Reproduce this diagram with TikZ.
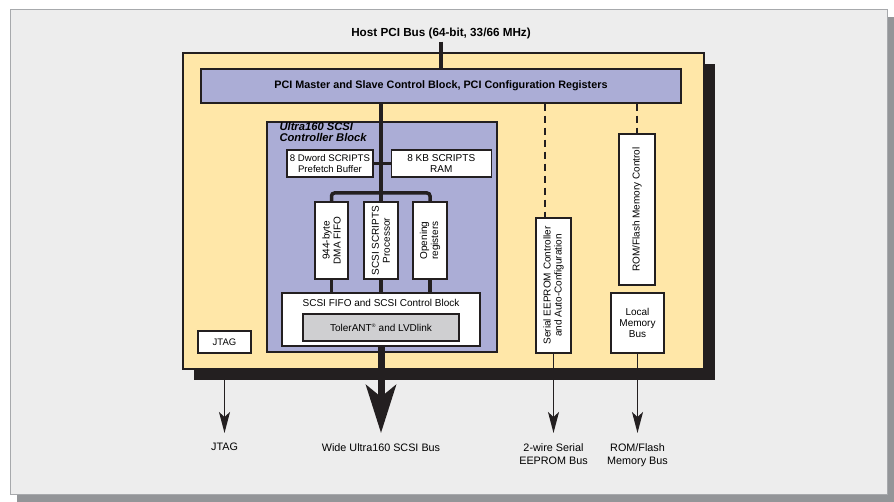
\documentclass[tikz,border=0pt]{standalone}
\usepackage{fontspec}
\setmainfont{Liberation Sans}
\usetikzlibrary{positioning,arrows.meta}
\definecolor{panel}{HTML}{EDEDED}
\definecolor{rim}{HTML}{A7A9AC}
\definecolor{drop}{HTML}{939598}
\definecolor{ink}{HTML}{231F20}
\definecolor{chipbg}{HTML}{FFE7A8}
\definecolor{lav}{HTML}{ABADD6}
\definecolor{tolbg}{HTML}{CFCFD1}
\tikzset{%
  blk/.style={draw=ink,line width=1.3pt,fill=white,inner sep=1pt,align=center,
    font=\fontsize{10}{11}\selectfont},
  vblk/.style={blk,rotate=90},
  bus/.style={draw=ink,line width=3.5pt},
  wire/.style={draw=ink,line width=1.4pt},
  ctl/.style={draw=ink,line width=1.4pt,dash pattern=on 7pt off 5pt},
  sig/.style={wire,-{Stealth[length=21pt,width=11pt,inset=5pt]}},
  wide/.style={draw=ink,line width=7pt,-{Stealth[length=48pt,width=30pt,inset=12pt]}},
  lbl/.style={font=\fontsize{10.8}{13}\selectfont,align=center,inner sep=0pt,anchor=north}
}

\begin{document}
\begin{tikzpicture}[x=1pt,y=-1pt]
  \useasboundingbox (0,0) rectangle (894,502);
  % backdrop
  \fill[drop] (17,17) rectangle (894,502);
  \filldraw[fill=panel,draw=rim,line width=1pt] (10,10) rectangle (887,494);

  % chip outline with its shadow
  \fill[ink] (194,64) rectangle (715,380);
  \node[draw=ink,line width=1.3pt,fill=chipbg,inner sep=0pt,
    minimum width=521pt,minimum height=316pt] (chip) at (443.5,211) {};

  \node[lbl,anchor=center,font=\bfseries\fontsize{11.7}{13}\selectfont,inner sep=3pt]
    (host) at (441,33) {Host PCI Bus (64-bit, 33/66 MHz)};
  \node[blk,fill=lav,minimum width=480pt,minimum height=34pt,
    font=\bfseries\fontsize{10.8}{12}\selectfont] (pci) at (441,86)
    {PCI Master and Slave Control Block, PCI Configuration Registers};

  % SCSI core
  \node[blk,fill=lav,minimum width=230pt,minimum height=230pt] (scsi) at (382,237) {};
  \node[below right=1pt and 13pt of scsi.north west,inner sep=0pt,align=left,
    font=\bfseries\itshape\fontsize{11.2}{10.5}\selectfont] (title)
    {Ultra160 SCSI\\Controller Block};

  \node[blk,minimum width=86pt,minimum height=27pt,font=\fontsize{9.6}{11}\selectfont]
    (dword) at (330,163.5) {8 Dword SCRIPTS\\Prefetch Buffer};
  \node[blk,minimum width=100pt,minimum height=27pt,right=17pt of dword] (kbram)
    {8 KB SCRIPTS\\RAM};

  % rotated blocks: east is the top edge, west the bottom one
  \node[vblk,minimum width=77pt,minimum height=33pt] (dma) at (331.5,240.5)
    {944-byte\\DMA FIFO};
  \node[vblk,minimum width=77pt,minimum height=34pt] (proc) at (381,240.5)
    {SCSI SCRIPTS\\Processor};
  \node[vblk,minimum width=77pt,minimum height=34pt] (opn) at (430,240.5)
    {Opening\\registers};

  \node[blk,minimum width=198pt,minimum height=53pt,
    label={[blk,draw=none,fill=none,anchor=north,yshift=-5pt]north:SCSI FIFO and SCSI Control Block}]
    (fifo) at (381,319.5) {};
  \node[blk,fill=tolbg,minimum width=156pt,minimum height=27pt] (tol) at (381,327.5)
    {TolerANT\textsuperscript{\tiny\textregistered} and LVDlink};

  \node[blk,minimum width=53pt,minimum height=22pt,font=\fontsize{9.5}{11}\selectfont]
    (jtag) at (224.5,342) {JTAG};

  \node[vblk,minimum width=135pt,minimum height=35pt] (eep) at (553.5,285.5)
    {Serial EEPROM Controller\\and Auto-Configuration};
  \node[vblk,minimum width=151pt,minimum height=36pt] (rom) at (637,209.5)
    {ROM/Flash Memory Control};
  \node[blk,minimum width=53pt,minimum height=60pt] (lmb) at (637.5,323)
    {Local\\Memory\\Bus};

  % outside labels
  \node[lbl] (jlab) at (224.5,443) {JTAG};
  \node[lbl] (wlab) at (381,443) {Wide Ultra160 SCSI Bus};
  \node[lbl] (elab) at (553.5,443) {2-wire Serial\\EEPROM Bus};
  \node[lbl] (mlab) at (637.5,443) {ROM/Flash\\Memory Bus};

  % internal bus
  \draw[bus] (host.south) -- (pci.north);
  \draw[bus] (pci.south -| proc) -- (proc.east);
  \draw[bus] (dword.east) -- (kbram.west);
  \coordinate (br) at (381,193);
  \draw[bus,rounded corners=3pt] (dma.east) |- (br) -| (opn.east);
  \draw[bus] (dma.west) -- (dma.west |- fifo.north);
  \draw[bus] (proc.west) -- (proc.west |- fifo.north);
  \draw[bus] (opn.west) -- (opn.west |- fifo.north);

  % control lines
  \coordinate (etop) at ([xshift=-8.5pt]eep.east);
  \draw[ctl] (etop |- pci.south) -- (etop);
  \draw[ctl] (rom.east |- pci.south) -- (rom.east);

  % outputs
  \coordinate (jtop) at (jtag |- chip.south);
  \draw[sig] (jtop) -- ([yshift=10pt]jlab.north);
  \draw[wide] (fifo.south) -- ([yshift=10pt]wlab.north);
  \draw[sig] (eep.west) -- ([yshift=10pt]elab.north);
  \draw[sig] (lmb.south) -- ([yshift=10pt]mlab.north);
\end{tikzpicture}
\end{document}
